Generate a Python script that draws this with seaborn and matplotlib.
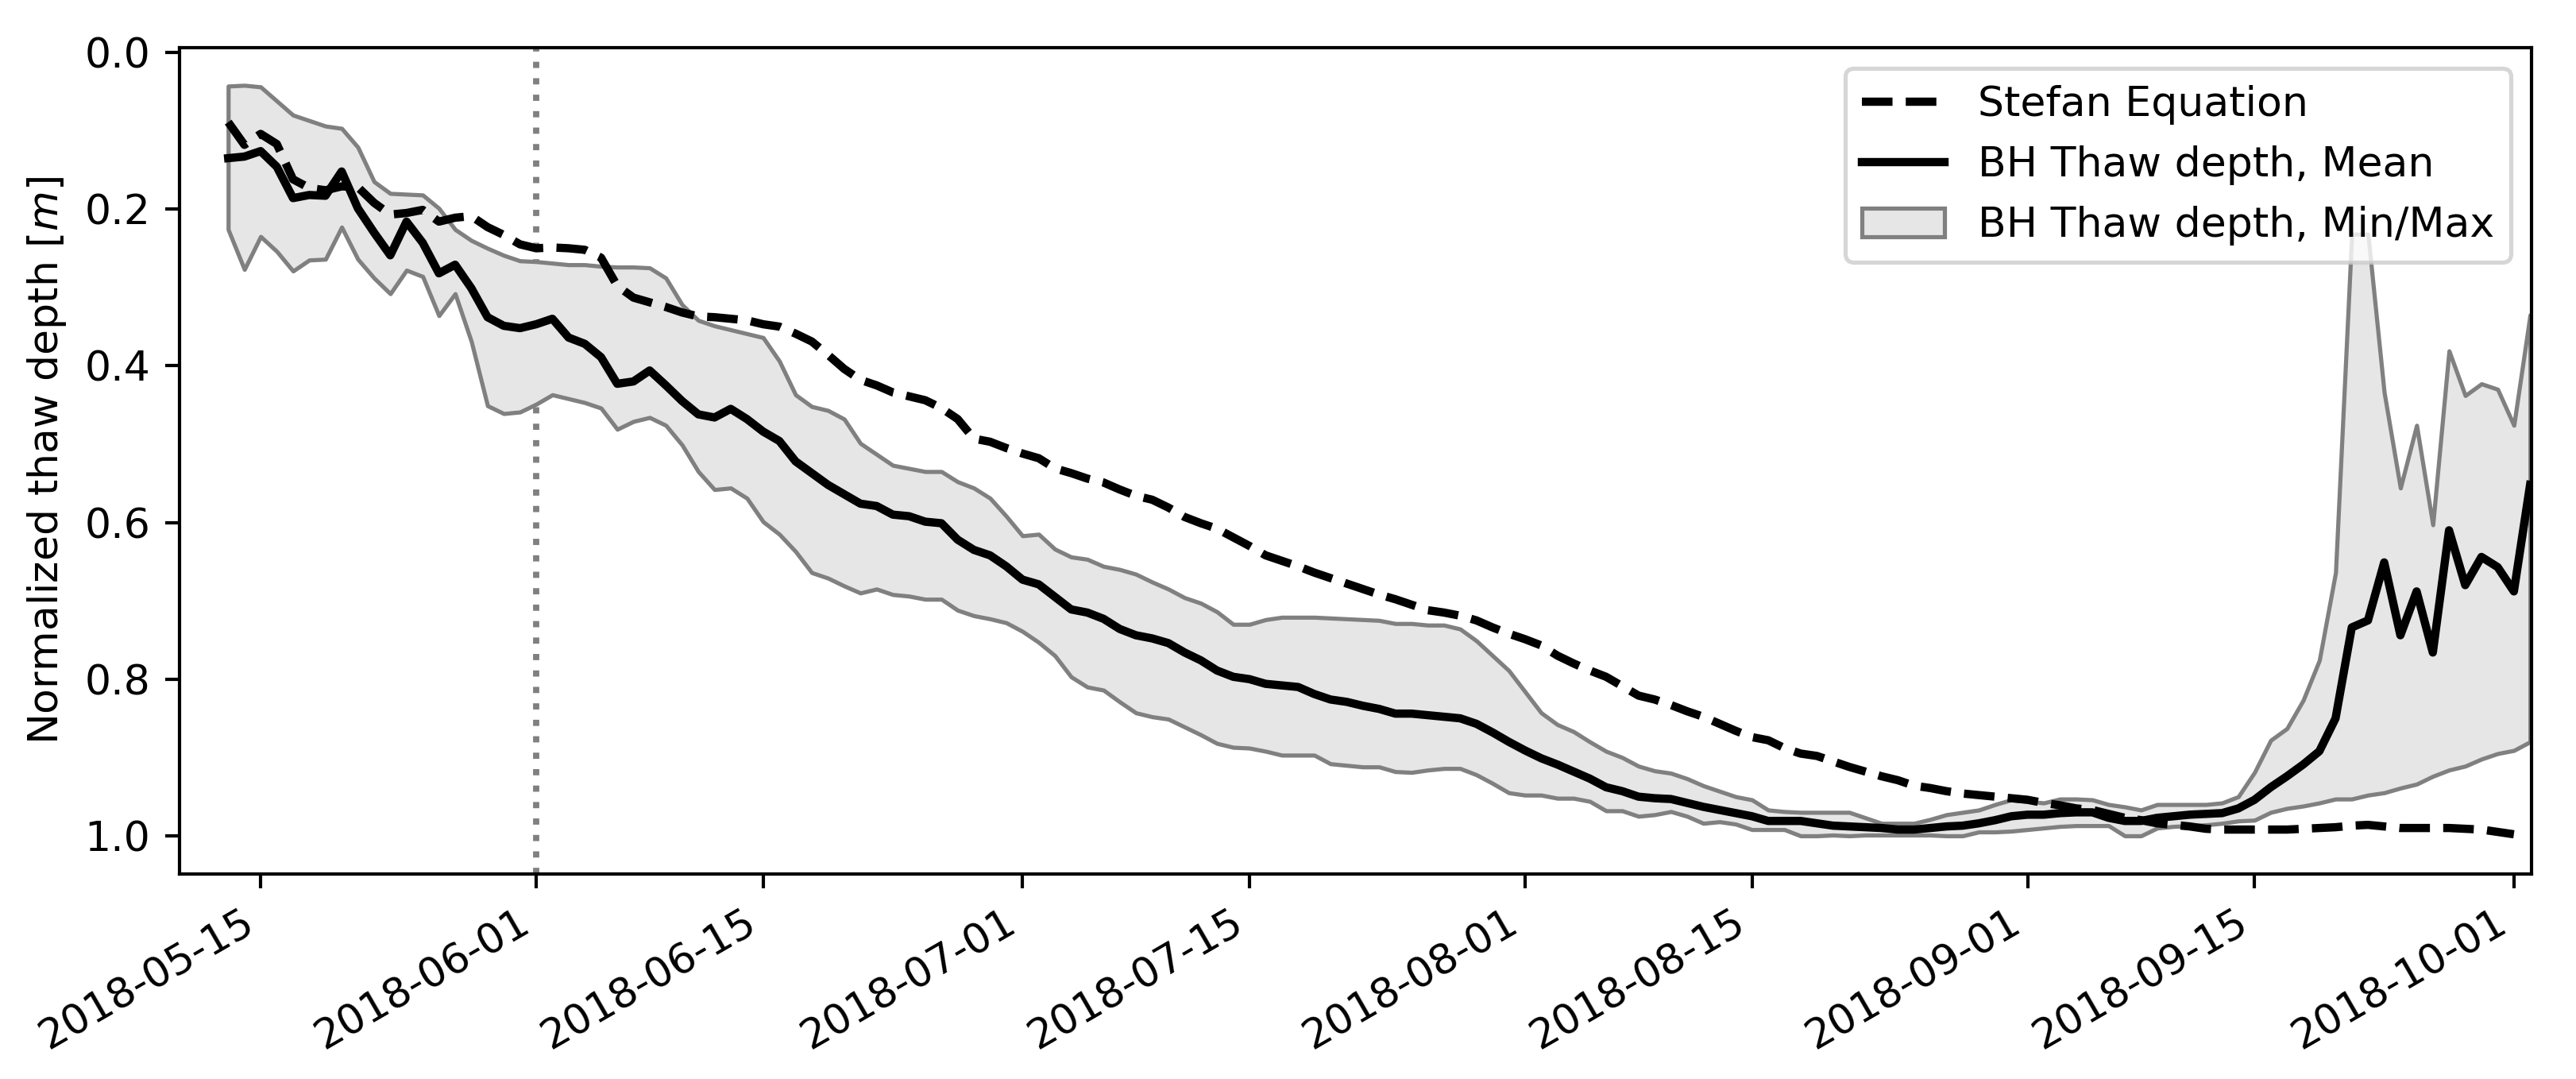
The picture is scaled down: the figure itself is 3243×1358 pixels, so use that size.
import matplotlib

matplotlib.use("Agg")
import matplotlib.dates as mdates
import matplotlib.pyplot as plt
import pandas as pd
import seaborn as sns

plt.style.use("default")

# daily values, 2018-05-13 .. 2018-10-02
dates = pd.date_range("2018-05-13", "2018-10-02", freq="D")

# Stefan equation (ends 2018-10-01)
stefan = [
    0.089, 0.118, 0.104, 0.117, 0.162, 0.173, 0.176, 0.171, 0.172, 0.192, 0.207,
    0.205, 0.201, 0.216, 0.211, 0.209, 0.223, 0.233, 0.245, 0.250, 0.249, 0.250,
    0.252, 0.262, 0.298, 0.313, 0.319, 0.325, 0.332, 0.337, 0.338, 0.340, 0.342,
    0.347, 0.350, 0.359, 0.369, 0.386, 0.404, 0.418, 0.425, 0.434, 0.439, 0.444,
    0.454, 0.468, 0.493,
    0.497, 0.505, 0.512, 0.518, 0.531, 0.537, 0.544, 0.549, 0.558, 0.566, 0.571,
    0.581, 0.593, 0.601, 0.608, 0.619, 0.630, 0.642, 0.649, 0.656, 0.664, 0.671,
    0.678, 0.685, 0.692,
    0.698, 0.705, 0.712, 0.715, 0.719, 0.725, 0.734, 0.742, 0.749, 0.757, 0.770,
    0.780, 0.789, 0.797, 0.809, 0.821, 0.826, 0.833, 0.841, 0.848, 0.857, 0.866,
    0.874, 0.878,
    0.888, 0.895, 0.898, 0.905, 0.912, 0.918, 0.924, 0.929, 0.936, 0.939, 0.943,
    0.946, 0.948, 0.950, 0.952, 0.954, 0.958, 0.961, 0.965, 0.967, 0.972, 0.977,
    0.980, 0.984,
    0.986, 0.988, 0.991, 0.992, 0.992, 0.992, 0.992, 0.992, 0.991, 0.990, 0.989,
    0.987, 0.986, 0.988, 0.990, 0.990, 0.990, 0.990, 0.991, 0.992, 0.995, 0.998,
]

# borehole thaw depth, mean
bh_mean = [
    0.135, 0.133, 0.126, 0.146, 0.186, 0.182, 0.183, 0.152, 0.199, 0.230, 0.259,
    0.216, 0.243, 0.282, 0.271, 0.301, 0.338, 0.349, 0.352, 0.347, 0.340, 0.364,
    0.372, 0.389, 0.423, 0.420, 0.406, 0.425, 0.445, 0.462, 0.466, 0.455, 0.468,
    0.484, 0.496, 0.522, 0.537, 0.552, 0.564, 0.576, 0.579, 0.590, 0.592, 0.599,
    0.601, 0.622, 0.635,
    0.642, 0.656, 0.673, 0.679, 0.695, 0.711, 0.715, 0.723, 0.736, 0.744, 0.748,
    0.754, 0.766, 0.776, 0.789, 0.797, 0.800, 0.806, 0.808, 0.810, 0.819, 0.826,
    0.829, 0.834, 0.838,
    0.844, 0.844, 0.846, 0.848, 0.850, 0.857, 0.868, 0.880, 0.891, 0.901, 0.909,
    0.918, 0.927, 0.938, 0.943, 0.950, 0.952, 0.953, 0.958, 0.963, 0.967, 0.971,
    0.975, 0.981,
    0.981, 0.981, 0.984, 0.987, 0.988, 0.989, 0.990, 0.992, 0.992, 0.990, 0.988,
    0.987, 0.984, 0.980, 0.975, 0.973, 0.973, 0.971, 0.970, 0.970, 0.977, 0.981,
    0.981, 0.977,
    0.975, 0.973, 0.972, 0.971, 0.965, 0.954, 0.938, 0.924, 0.909, 0.892, 0.850,
    0.734, 0.725, 0.651, 0.744, 0.688, 0.766, 0.610, 0.680, 0.644, 0.657, 0.688,
    0.552,
]

# borehole thaw depth, min (shallowest)
bh_min = [
    0.043, 0.042, 0.044, 0.062, 0.080, 0.087, 0.094, 0.097, 0.121, 0.165, 0.180,
    0.181, 0.182, 0.199, 0.226, 0.240, 0.250, 0.259, 0.266, 0.267, 0.269, 0.271,
    0.271, 0.273, 0.274, 0.274, 0.275, 0.288, 0.322, 0.342, 0.349, 0.354, 0.359,
    0.364, 0.394, 0.437, 0.452, 0.457, 0.468, 0.499, 0.513, 0.527, 0.531, 0.535,
    0.535, 0.548, 0.556,
    0.569, 0.592, 0.617, 0.615, 0.634, 0.644, 0.647, 0.656, 0.660, 0.666, 0.676,
    0.685, 0.696, 0.703, 0.714, 0.730, 0.730, 0.724, 0.721, 0.721, 0.721, 0.722,
    0.723, 0.724, 0.725,
    0.729, 0.729, 0.731, 0.731, 0.736, 0.751, 0.770, 0.789, 0.816, 0.843, 0.858,
    0.867, 0.880, 0.892, 0.900, 0.911, 0.917, 0.920, 0.927, 0.936, 0.943, 0.950,
    0.954, 0.967,
    0.969, 0.970, 0.970, 0.970, 0.970, 0.977, 0.984, 0.984, 0.984, 0.979, 0.973,
    0.970, 0.967, 0.960, 0.954, 0.956, 0.958, 0.953, 0.953, 0.954, 0.960, 0.963,
    0.967, 0.960,
    0.960, 0.960, 0.960, 0.958, 0.950, 0.919, 0.878, 0.863, 0.827, 0.776, 0.664,
    0.232, 0.232, 0.434, 0.556, 0.476, 0.603, 0.381, 0.438, 0.423, 0.430, 0.476,
    0.335,
]

# borehole thaw depth, max (deepest)
bh_max = [
    0.226, 0.277, 0.235, 0.254, 0.279, 0.265, 0.264, 0.223, 0.264, 0.288, 0.308,
    0.278, 0.286, 0.336, 0.308, 0.369, 0.451, 0.461, 0.459, 0.449, 0.437, 0.442,
    0.447, 0.454, 0.481, 0.471, 0.466, 0.476, 0.501, 0.535, 0.558, 0.556, 0.569,
    0.599, 0.615, 0.637, 0.664, 0.671, 0.681, 0.690, 0.685, 0.692, 0.694, 0.698,
    0.698, 0.712, 0.719,
    0.723, 0.728, 0.739, 0.753, 0.770, 0.797, 0.810, 0.814, 0.829, 0.843, 0.848,
    0.851, 0.861, 0.871, 0.882, 0.887, 0.888, 0.892, 0.897, 0.897, 0.897, 0.908,
    0.910, 0.912, 0.912,
    0.918, 0.919, 0.916, 0.914, 0.914, 0.922, 0.933, 0.945, 0.948, 0.948, 0.952,
    0.952, 0.956, 0.968, 0.968, 0.975, 0.973, 0.969, 0.975, 0.984, 0.982, 0.985,
    0.992, 0.992,
    0.992, 1.000, 1.000, 0.999, 1.000, 0.999, 0.999, 0.999, 0.999, 0.999, 1.000,
    1.000, 0.995, 0.995, 0.994, 0.992, 0.990, 0.988, 0.987, 0.987, 0.987, 1.000,
    1.000, 0.990,
    0.988, 0.987, 0.986, 0.984, 0.981, 0.980, 0.970, 0.965, 0.962, 0.958, 0.953,
    0.953, 0.948, 0.945, 0.939, 0.934, 0.924, 0.916, 0.911, 0.902, 0.895, 0.891,
    0.880,
]

marker_date = pd.Timestamp("2018-06-01")
tick_days = [1, 15]


def main():
    fig, ax = plt.subplots(figsize=(3243 / 375, 1358 / 375), dpi=375)
    fig.subplots_adjust(left=0.0697, right=0.9827, top=0.9558, bottom=0.19)

    ax.axvline(marker_date, color="grey", linestyle=":", linewidth=1.5, zorder=0.5)
    band = ax.fill_between(
        dates,
        bh_min,
        bh_max,
        facecolor="#e6e6e6",
        edgecolor="grey",
        linewidth=1.0,
        label="BH Thaw depth, Min/Max",
    )
    sns.lineplot(
        x=dates[: len(stefan)],
        y=stefan,
        ax=ax,
        color="black",
        linestyle="--",
        linewidth=2,
        label="Stefan Equation",
    )
    sns.lineplot(
        x=dates,
        y=bh_mean,
        ax=ax,
        color="black",
        linewidth=2,
        label="BH Thaw depth, Mean",
    )

    ax.set_ylim(1.0487, -0.006)
    ax.set_xlim(pd.Timestamp("2018-05-10"), pd.Timestamp("2018-10-02 02:00"))
    ax.xaxis.set_major_locator(mdates.DayLocator(bymonthday=tick_days))
    ax.xaxis.set_major_formatter(mdates.DateFormatter("%Y-%m-%d"))
    plt.setp(ax.get_xticklabels(), rotation=30, ha="right")

    ax.set_xlabel("")
    ax.set_ylabel("Normalized thaw depth [$m$]")

    # legend order: Stefan, Mean, Min/Max
    lines = ax.get_lines()
    handles = [lines[1], lines[2], band]
    labels = [h.get_label() for h in handles]
    ax.legend(handles, labels, loc="upper right")

    fig.savefig("out.png", dpi=375)


if __name__ == "__main__":
    main()
